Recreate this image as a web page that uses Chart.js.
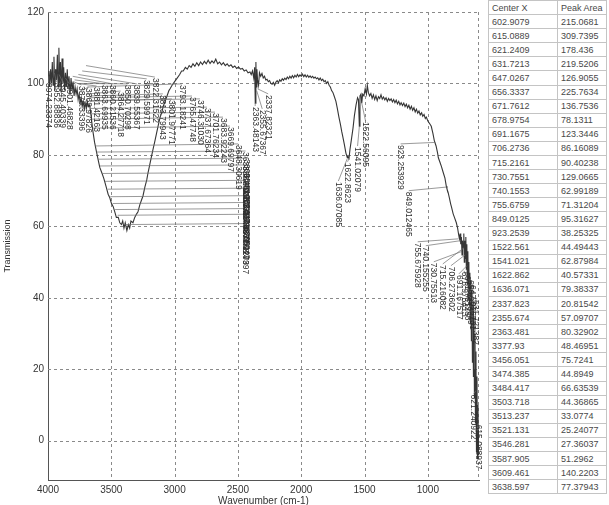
<!DOCTYPE html>
<html>
<head>
<meta charset="utf-8">
<script src="https://cdn.jsdelivr.net/npm/chart.js@4.4.0/dist/chart.umd.min.js"></script>
<style>
  body { margin: 0; background: #fff; width: 609px; height: 505px; overflow: hidden; position: relative; font-family: "Liberation Sans", Arial, sans-serif; }
  #wrap { position: absolute; left: 0; top: 0; width: 485px; height: 507px; }
  #peaks { position: absolute; left: 488px; top: 0; border-collapse: collapse; font-size: 9px; color: #484848; }
  #peaks tr { height: 14.1px; }
  #peaks td { border: 1px solid #c4c4c4; padding: 0 3px; line-height: 10px; white-space: nowrap; text-align: left; }
  #peaks td.c1 { width: 62px; }
  #peaks td.c2 { width: 42px; }
</style>
</head>
<body>
<div id="wrap"><canvas id="ftir"></canvas></div>
<table id="peaks"></table>
<script>
// spectrum
const wavenumber = [
  4000, 3993, 3987, 3980, 3973, 3966, 3960, 3953, 3946, 3940, 3933, 3926, 3920, 3914, 3908, 3902,
  3896, 3889, 3882, 3876, 3869, 3862, 3855, 3848, 3841, 3834, 3826, 3818, 3810, 3802, 3794, 3786,
  3778, 3770, 3762, 3754, 3746, 3738, 3730, 3722, 3714, 3706, 3698, 3690, 3682, 3671, 3660, 3647,
  3632, 3615, 3600, 3591, 3575, 3560, 3552, 3540, 3525, 3512, 3500, 3485, 3472, 3460, 3445, 3433,
  3420, 3410, 3400, 3390, 3377, 3365, 3355, 3345, 3329, 3315, 3300, 3290, 3275, 3260, 3250, 3235,
  3220, 3210, 3195, 3180, 3171, 3155, 3140, 3131, 3115, 3100, 3091, 3075, 3060, 3045, 3036, 3020,
  3000, 2980, 2960, 2945, 2932, 2915, 2900, 2885, 2870, 2855, 2840, 2825, 2810, 2795, 2780, 2765,
  2750, 2735, 2720, 2705, 2690, 2675, 2660, 2645, 2630, 2615, 2600, 2585, 2570, 2555, 2540, 2525,
  2510, 2495, 2480, 2465, 2450, 2435, 2420, 2405, 2395, 2385, 2375, 2368, 2363, 2358, 2355, 2350,
  2345, 2337, 2330, 2320, 2310, 2300, 2290, 2280, 2270, 2260, 2250, 2240, 2230, 2220, 2210, 2200,
  2190, 2180, 2170, 2160, 2150, 2140, 2130, 2120, 2110, 2100, 2090, 2080, 2070, 2060, 2050, 2040,
  2030, 2020, 2010, 2000, 1990, 1980, 1970, 1960, 1950, 1940, 1930, 1920, 1910, 1900, 1890, 1880,
  1870, 1860, 1850, 1840, 1830, 1820, 1810, 1800, 1790, 1780, 1770, 1760, 1750, 1740, 1726, 1715,
  1702, 1690, 1680, 1671, 1660, 1647, 1636, 1631, 1623, 1615, 1605, 1591, 1580, 1567, 1555, 1548,
  1541, 1536, 1528, 1522, 1515, 1505, 1495, 1485, 1478, 1470, 1460, 1450, 1440, 1430, 1420, 1410,
  1400, 1390, 1380, 1370, 1360, 1350, 1340, 1330, 1320, 1310, 1300, 1290, 1280, 1270, 1260, 1250,
  1240, 1230, 1220, 1211, 1200, 1190, 1180, 1170, 1160, 1150, 1140, 1130, 1120, 1110, 1100, 1090,
  1080, 1070, 1060, 1049, 1040, 1030, 1020, 1012, 1000, 985, 973, 960, 949, 935, 923, 917,
  905, 893, 878, 865, 854, 849, 840, 830, 820, 814, 800, 790, 775, 765, 756, 751,
  745, 740, 735, 730, 726, 722, 716, 712, 708, 704, 700, 696, 692, 688, 684, 680,
  676, 672, 668, 664, 660, 656, 652, 648, 644, 640, 636, 632, 628, 624, 620, 616,
  612, 608, 604, 600, 596
];
const transmission = [
  100.5, 103.5, 99, 104, 100, 106, 99.5, 107.5, 98, 104, 101, 108, 99, 110, 100, 106,
  97.5, 107, 100, 104.5, 98, 103, 99, 104, 98.5, 102, 97, 101.5, 98, 100.5, 96.5, 99,
  97, 98.5, 95.5, 97, 94.5, 96, 93.5, 95, 93, 94.5, 93, 95, 93.5, 94, 91, 87,
  83.5, 80.5, 78, 76.5, 75, 73.5, 72.5, 71, 69, 68, 66.5, 65.5, 64, 62.5, 62.5, 61,
  60.5, 61.5, 59.5, 61, 58.8, 60.5, 59.5, 61.5, 61, 62.5, 63.5, 64, 66, 67.5, 68.5, 71,
  73, 75, 77.5, 80, 81.5, 84, 86.5, 88, 90.5, 92, 93.5, 95, 96.5, 98, 98.5, 99.5,
  100.5, 101.5, 102.5, 103.5, 103.5, 104.5, 104, 105, 104.5, 105.5, 104.8, 105.8, 105, 106, 105.3, 106.2,
  105.5, 106.5, 105.6, 106.3, 105.7, 106.8, 105.5, 106, 105.2, 105.8, 105, 105.5, 104.8, 105.2, 104.5, 104.9,
  104.2, 104.6, 104, 104.2, 103.5, 103.8, 103, 103.2, 102.5, 103.5, 101.5, 104.5, 94.5, 106, 99, 104,
  101, 99.5, 103, 102, 102.8, 101.5, 102, 101, 101.2, 100.5, 100.8, 100, 99.8, 100.3, 99.5, 100.4,
  100.8, 100.2, 101, 100.6, 101.3, 100.9, 101.5, 101.1, 101.8, 101.3, 102, 101.5, 102.2, 101.6, 102.3, 101.8,
  102.5, 101.9, 102.4, 102, 102.6, 101.9, 102.4, 101.8, 102.3, 101.7, 102.1, 101.6, 102, 101.5, 101.8, 101.3,
  101.6, 101, 101.5, 100.8, 101.2, 100.5, 100.8, 100, 100.5, 99.5, 99, 98, 97.5, 96.5, 95, 93,
  90.5, 88.5, 86.5, 85, 83, 80.5, 79.2, 79.5, 79, 81.5, 84, 87.5, 91, 94, 96, 95.5,
  88, 96.5, 97, 94.5, 97, 96.5, 98.5, 97, 99.5, 97.5, 96.5, 97.2, 95.8, 96.8, 95.5, 96.5,
  95.2, 96.3, 95.8, 96.8, 95.6, 96.2, 95.4, 96, 95, 95.8, 95.2, 95.7, 94.8, 95.5, 94.6, 95.3,
  94.3, 95, 94, 94.6, 93.8, 94.5, 93.5, 94.2, 93.2, 93.9, 92.8, 93.6, 92.5, 93.2, 92, 92.8,
  91.7, 92.3, 91.2, 91.8, 90.8, 91.3, 90.2, 90.6, 89.5, 88.7, 88, 86, 84, 82.5, 80.5, 79.2,
  78, 76.8, 75, 73.5, 71.2, 70.5, 69.5, 68, 66.3, 65.5, 63.5, 62.5, 61, 59.5, 57.5, 56.5,
  58, 55, 57, 52, 56, 54, 58, 50, 56, 51, 57, 48, 55, 44, 53, 40,
  50, 38, 47, 33, 45, 28, 42, 22, 38, 18, 35, 12, 30, 5, 25, -3,
  18, -5, 10, -4, 3
];

const xTicks = [4000, 3500, 3000, 2500, 2000, 1500, 1000];
const yTicks = [0, 20, 40, 60, 80, 100, 120];

// peak table
const centerX = ['602.9079', '615.0889', '621.2409', '631.7213', '647.0267', '656.3337', '671.7612', '678.9754',
  '691.1675', '706.2736', '715.2161', '730.7551', '740.1553', '755.6759', '849.0125', '923.2539', '1522.561',
  '1541.021', '1622.862', '1636.071', '2337.823', '2355.674', '2363.481', '3377.93', '3456.051', '3474.385',
  '3484.417', '3503.718', '3513.237', '3521.131', '3546.281', '3587.905', '3609.461', '3638.597'];
const peakArea = ['215.0681', '309.7395', '178.436', '219.5206', '126.9055', '225.7634', '136.7536', '78.1311',
  '123.3446', '86.16089', '90.40238', '129.0665', '62.99189', '71.31204', '95.31627', '38.25325', '44.49443',
  '62.87984', '40.57331', '79.38337', '20.81542', '57.09707', '80.32902', '48.46951', '75.7241', '44.8949',
  '66.63539', '44.36865', '33.0774', '25.24077', '27.36037', '51.2962', '140.2203', '77.37943'];

// peak labels on the plot: text, where the label sits (wavenumber, top), and where its leader line ends
const labelText = ['3974.23374', '3952.88836', '3945.40339', '3901.46828', '3876.33396', '3869.97826', '3881.42163',
  '3863.69935', '3860.21536', '3864.27718', '3850.70298', '3839.55367', '3829.59971', '3822.31522', '3813.79943',
  '3801.97771', '3793.18241', '3765.47748', '3746.31030', '3737.67364', '3701.76234', '3683.92243', '3669.69797',
  '3648.30619', '3638.597015', '3609.461082', '3587.905231', '3546.281427', '3521.131584', '3513.237465',
  '3503.718296', '3484.417163', '3474.385042', '3456.051273', '3377.929997',
  '2363.48143', '2355.67367', '2337.82321', '1636.07085', '1622.8623', '1541.02079', '1522.56095',
  '923.253929', '849.012465', '755.675928', '740.155255', '730.75513', '715.216082', '706.273602', '691.167517',
  '678.975413', '671.761286', '656.333749', '647.026731', '631.721382', '621.240922', '615.088937'];
const labelWn = [3996, 3933, 3885, 3830, 3735, 3679, 3616, 3552, 3489, 3426, 3370, 3299, 3220, 3156, 3093,
  3022, 2942, 2863, 2800, 2745, 2681, 2618, 2563, 2498, 2440, 2436, 2442, 2434, 2438, 2444, 2436, 2440, 2434,
  2442, 2438,
  2364, 2308, 2261, 1707, 1634, 1555, 1492, 1215, 1151, 1080, 1016, 953, 882, 818, 755,
  715, 692, 668, 645, 621, 637, 604];
const labelTop = [100.1, 100.1, 100.1, 99.6, 99.3, 98.7, 99.0, 99.6, 99.6, 97.6, 99.6, 99.6, 101, 101.5, 96.8,
  95.4, 99.6, 96.2, 95.4, 93.1, 91.7, 90.3, 87.8, 82.8, 80.8, 78.8, 76.9, 74.8, 72.6, 70.4, 68.3, 66.4, 64.7,
  63.1, 60.5,
  93.4, 92.6, 96.8, 72.4, 77.8, 82.2, 89.2, 82.8, 69.7, 55.4, 54.3, 49.8, 49.2, 48.7, 46.4,
  47.3, 46.2, 45, 43.6, 39.4, 12.9, 4.5];
const leadWn = [3992, 3950, 3912, 3862, 3800, 3740, 3770, 3790, 3805, 3700, 3745, 3760, 3730, 3700, 3665,
  3668, 3690, 3675, 3670, 3663, 3660, 3656, 3648, 3628, 3617, 3603, 3590, 3572, 3550, 3528, 3508, 3488, 3470,
  3450, 3390,
  2363, 2352, 2345, 1636, 1623, 1541, 1522, 940, 852, 760, 740, 730, 715, 706, 691,
  679, 672, 656, 647, 632, 621, 615];
const leadT = [102, 103, 102.5, 101.5, 100.5, 98, 100, 101, 102, 97, 100, 102.5, 103.5, 105, 96.5,
  95, 99, 96, 95.2, 93, 91.5, 90, 87.5, 82.5, 80.8, 78.8, 76.9, 74.8, 72.6, 70.4, 68.3, 66.4, 64.7,
  63.1, 60.5,
  94.5, 98, 98.5, 79, 79, 88, 94.5, 83.5, 71, 56.5, 56, 53, 54, 52, 49,
  45, 40, 33, 28, 20, 14, 2];

function buildTable() {
  const table = document.getElementById('peaks');
  let html = '<tr><td class="c1">Center X</td><td class="c2">Peak Area</td></tr>';
  for (let i = 0; i < centerX.length; i++) {
    html += '<tr><td class="c1">' + centerX[i] + '</td><td class="c2">' + peakArea[i] + '</td></tr>';
  }
  table.innerHTML = html;
}

// dashed grid like the scan (drawn from the tick arrays through the scales)
const dashedGrid = {
  id: 'dashedGrid',
  beforeDatasetsDraw(chart) {
    const ctx = chart.ctx;
    const xs = chart.scales.x;
    const ys = chart.scales.y;
    const area = chart.chartArea;
    ctx.save();
    ctx.strokeStyle = '#8a8a8a';
    ctx.lineWidth = 1;
    ctx.setLineDash([3, 3]);
    ctx.beginPath();
    xTicks.forEach(v => {
      if (v === xs.max) return;
      const x = Math.round(xs.getPixelForValue(v)) + 0.5;
      ctx.moveTo(x, area.top);
      ctx.lineTo(x, area.bottom);
    });
    ctx.moveTo(Math.round(area.right) - 0.5, area.top);
    ctx.lineTo(Math.round(area.right) - 0.5, area.bottom);
    yTicks.forEach(v => {
      const y = Math.round(ys.getPixelForValue(v)) + 0.5;
      ctx.moveTo(area.left, y);
      ctx.lineTo(area.right, y);
    });
    ctx.stroke();
    ctx.restore();
  }
};

const peakLabels = {
  id: 'peakLabels',
  afterDatasetsDraw(chart) {
    const ctx = chart.ctx;
    const xs = chart.scales.x;
    const ys = chart.scales.y;
    ctx.save();
    ctx.strokeStyle = '#6f6f6f';
    ctx.lineWidth = 0.7;
    for (let i = 0; i < labelText.length; i++) {
      const x = xs.getPixelForValue(labelWn[i]);
      const y = ys.getPixelForValue(labelTop[i]);
      ctx.beginPath();
      ctx.moveTo(x, y - 1);
      ctx.lineTo(xs.getPixelForValue(leadWn[i]), ys.getPixelForValue(leadT[i]));
      ctx.stroke();
    }
    ctx.fillStyle = '#2e2e2e';
    ctx.font = '8.5px "Liberation Sans", Arial, sans-serif';
    ctx.textAlign = 'left';
    ctx.textBaseline = 'middle';
    for (let i = 0; i < labelText.length; i++) {
      const x = xs.getPixelForValue(labelWn[i]);
      const y = ys.getPixelForValue(labelTop[i]);
      ctx.save();
      ctx.translate(x, y);
      ctx.rotate(Math.PI / 2);
      ctx.fillText(labelText[i], 0, 0);
      ctx.restore();
    }
    ctx.restore();
  }
};

function plotSpectrum() {
  const points = wavenumber.map((w, i) => ({x: w, y: transmission[i]}));

  const config = {
    type: 'line',
    data: {
      datasets: [
        {
          label: 'Transmission',
          data: points,
          borderColor: '#363636',
          borderWidth: 1.1,
          pointRadius: 0,
          tension: 0,
        }
      ]
    },
    options: {
      responsive: true,
      maintainAspectRatio: false,
      animation: false,
      layout: {
        padding: {top: 12, right: 6, left: 0, bottom: 0}
      },
      plugins: {
        legend: {display: false},
        tooltip: {enabled: false}
      },
      scales: {
        x: {
          type: 'linear',
          reverse: true,
          min: 596,
          max: 4000,
          afterBuildTicks: (scale) => { scale.ticks = xTicks.map(v => ({value: v})); },
          afterFit: (scale) => { scale.height = 27; },
          grid: {display: false, drawTicks: false},
          border: {display: true, color: '#555'},
          ticks: {
            padding: 4,
            maxRotation: 0,
            color: '#333',
            font: {family: '"Liberation Sans", Arial, sans-serif', size: 10},
            callback: (v) => String(v)
          },
          title: {
            display: true,
            text: 'Wavenumber (cm-1)',
            color: '#333',
            padding: 0,
            font: {family: '"Liberation Sans", Arial, sans-serif', size: 10}
          }
        },
        y: {
          min: -11,
          max: 120,
          afterBuildTicks: (scale) => { scale.ticks = yTicks.map(v => ({value: v})); },
          afterFit: (scale) => { scale.width = 48; },
          grid: {display: false, drawTicks: false},
          border: {display: true, color: '#555'},
          ticks: {
            padding: 4,
            color: '#333',
            font: {family: '"Liberation Sans", Arial, sans-serif', size: 10}
          },
          title: {
            display: true,
            text: 'Transmission',
            color: '#333',
            padding: 2,
            font: {family: '"Liberation Sans", Arial, sans-serif', size: 9}
          }
        }
      }
    },
    plugins: [dashedGrid, peakLabels]
  };

  new Chart(document.getElementById('ftir'), config);
}

buildTable();
plotSpectrum();
</script>
</body>
</html>
